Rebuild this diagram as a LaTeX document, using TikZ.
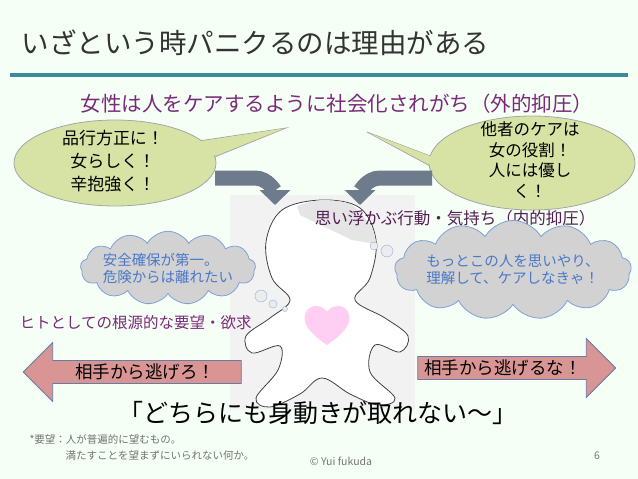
\documentclass[tikz,border=0pt]{standalone}
\usepackage{fontspec}
\setmainfont{Noto Sans CJK JP}
\usetikzlibrary{shapes.symbols,shapes.arrows,arrows.meta}
\definecolor{teal1}{HTML}{3A8C9C}
\definecolor{purp}{HTML}{7A2A7A}
\definecolor{greenf}{HTML}{D6E3A5}
\definecolor{bluet}{HTML}{4A78C8}
\definecolor{pinkf}{HTML}{D99594}
\definecolor{arrg}{HTML}{6D7B8D}
\tikzset{
  bubble/.style={fill=greenf,draw=gray!70,line width=0.8pt},
  cloudbox/.style={cloud,cloud puffs=13,cloud puff arc=120,aspect=3.4,fill=gray!35,draw=bluet!70,line width=0.8pt,text=bluet,font=\fontsize{14.5}{17}\selectfont,align=left,inner sep=-4pt},
  pinkarrow/.style={single arrow,fill=pinkf,draw=bluet!50!gray,line width=0.8pt,font=\fontsize{17.5}{20}\selectfont,inner sep=3pt,single arrow head extend=18pt,minimum height=200pt,minimum width=38pt},
  bendarrow/.style={arrg,line width=15pt,-{Triangle[width=30pt,length=15pt]}},
  purpt/.style={text=purp},
}
\begin{document}
\begin{tikzpicture}[x=1pt,y=-1pt]
\useasboundingbox (0,0) rectangle (638,479);
\fill[white!96!green] (0,0) rectangle (638,479);
\node[anchor=west,text=black!80,font=\fontsize{27.5}{30}\selectfont] (title) at (18,43) {いざという時パニクるのは理由がある};
\coordinate (l1) at (10,75); \coordinate (l2) at (628,75);
\draw[teal1,line width=4pt] (l1) -- (l2);
\node[purpt,font=\fontsize{20.5}{24}\selectfont] (soc) at (337,104) {女性は人をケアするように社会化されがち（外的抑圧）};
% figure background
\fill[gray!10] (230,195) rectangle (415,410);
% bubbles
\path[bubble] (192,142) -- (286,128) -- (212,158) -- cycle;
\path[bubble] (115,163) ellipse [x radius=101,y radius=43];
\fill[greenf] (190,143) -- (284,128.5) -- (210,157) -- cycle;
\path[bubble] (433,157) -- (367,132) -- (445,174) -- cycle;
\path[bubble] (532,163) ellipse [x radius=103,y radius=47];
\fill[greenf] (435,158) -- (369,133) -- (447,173) -- cycle;
\node[align=center,font=\fontsize{17}{23}\selectfont] (lb) at (113,161) {品行方正に！\\女らしく！\\辛抱強く！};
\node[align=center,font=\fontsize{16.5}{20.5}\selectfont] (rb) at (530,160) {他者のケアは\\女の役割！\\人には優し\\く！};
% bent arrows
\coordinate (la) at (215,178); \coordinate (lt) at (275,205);
\coordinate (ra) at (432,178); \coordinate (rt) at (360,205);
\draw[bendarrow] (la) -- (255,178) to[out=0,in=90] (lt);
\draw[bendarrow] (ra) -- (380,178) to[out=180,in=90] (rt);
% person
\draw[black!75,line width=0.8pt,fill=white] plot[smooth cycle,tension=0.6] coordinates {(322,200)(360,208)(376,240)(370,278)(355,300)(385,318)(408,336)(400,352)(375,345)(370,372)(395,398)(378,405)(350,394)(322,378)(300,394)(270,407)(256,398)(278,370)(280,346)(252,353)(246,336)(270,318)(290,300)(272,278)(266,242)(282,210)};
\fill[gray!20] plot[smooth] coordinates {(297,206)(322,200)(352,205)(372,228)(376,244)} -- (352,240) -- (300,215) -- cycle;
\node[font=\fontsize{16.5}{19}\selectfont,text=purp!70!black] (inner) at (455,218) {思い浮かぶ行動・気持ち（内的抑圧）};
% heart
\fill[pink!60!magenta!35] (327,345) .. controls (305,330) and (302,320) .. (306,312) .. controls (310,304) and (322,304) .. (327,312) .. controls (332,304) and (344,304) .. (348,312) .. controls (352,320) and (349,330) .. (327,345) -- cycle;
\node (heart) at (327,322) {};
% thought circles
\foreach \x/\y/\r in {374/246/4,387/251/6,261/296/6,273/304/4,285/309/2.5}
  \draw[bluet!60,fill=gray!15] (\x,\y) circle (\r);
% clouds
\node[cloudbox,minimum width=165pt,minimum height=60pt] (lc) at (168,268) {安全確保が第一。\\危険からは離れたい};
\node[cloudbox,minimum width=228pt,minimum height=60pt] (rc) at (513,270) {もっとこの人を思いやり、\\理解して、ケアしなきゃ！};
\node[purpt,anchor=west,font=\fontsize{15.5}{18}\selectfont] (need) at (16,323) {ヒトとしての根源的な要望・欲求};
% pink arrows
\node[pinkarrow,shape border rotate=180,minimum height=218pt] (la2) at (138,372) {\hspace*{14pt}相手から逃げろ！};
\node[pinkarrow,minimum height=198pt] (ra2) at (511,368) {相手から逃げるな！\hspace*{16pt}};
\node[font=\fontsize{25}{28}\selectfont] (main) at (318,413) {「どちらにも身動きが取れない〜」};
\node[anchor=west,text=gray!90!black,font=\fontsize{10.5}{12}\selectfont] (fn1) at (26,439) {*要望：人が普遍的に望むもの。};
\node[anchor=west,text=gray!90!black,font=\fontsize{10.5}{12}\selectfont] (fn2) at (62,456) {満たすことを望まずにいられない何か。};
\node[text=gray!90!black,font=\fontsize{10.5}{12}\selectfont] (copy) at (341,461) {© Yui fukuda};
\node[text=gray!90!black,font=\fontsize{10.5}{12}\selectfont] (pg) at (597,456) {6};
\end{tikzpicture}
\end{document}
